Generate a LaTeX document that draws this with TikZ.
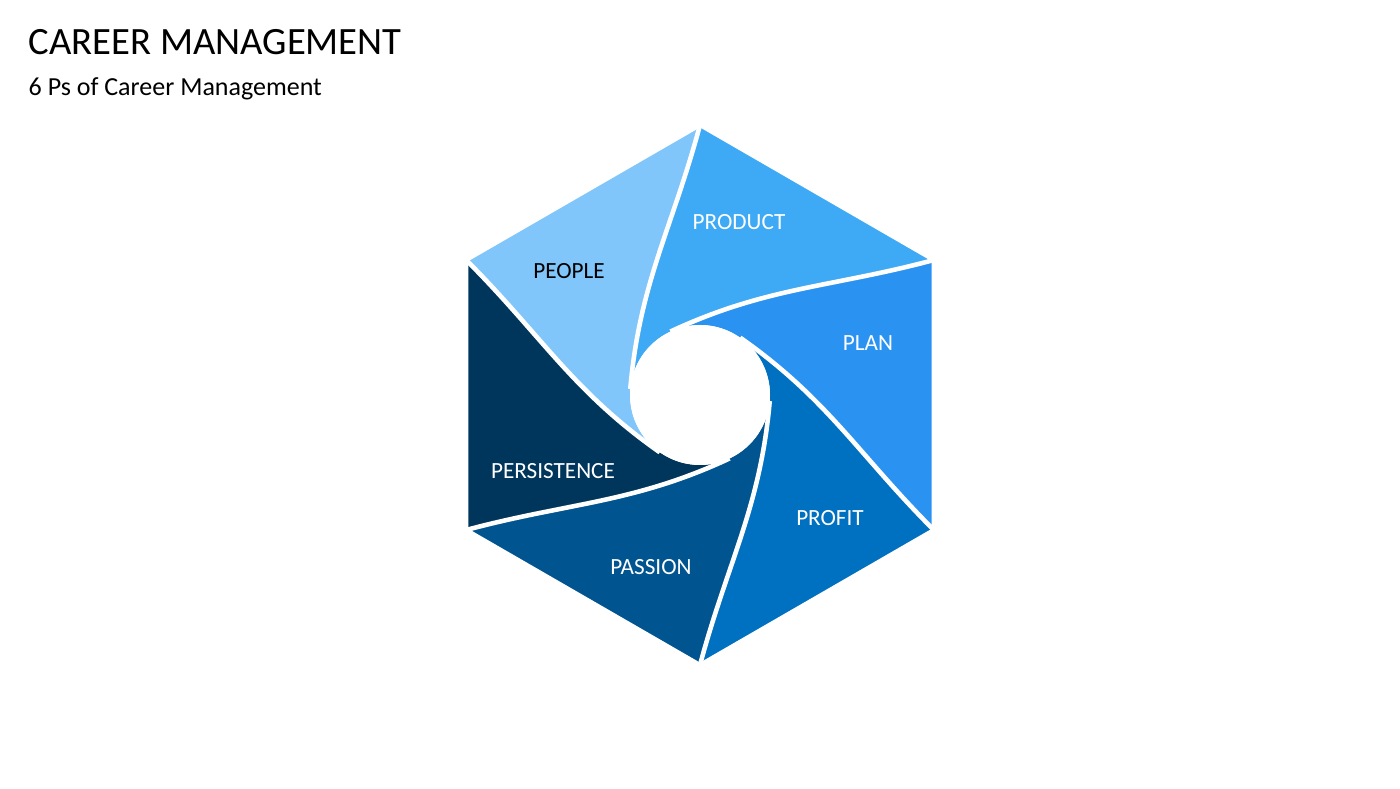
\documentclass[tikz,border=0pt]{standalone}
\usepackage{fontspec}
\setmainfont{Carlito}
\usepackage{tikz}

\definecolor{cPeople}{RGB}{128,198,250}
\definecolor{cProduct}{RGB}{62,169,245}
\definecolor{cPlan}{RGB}{42,147,242}
\definecolor{cProfit}{RGB}{0,112,192}
\definecolor{cPassion}{RGB}{0,84,143}
\definecolor{cPersist}{RGB}{0,54,92}

\begin{document}
\begin{tikzpicture}
      \useasboundingbox (0,0) rectangle (14,7.88);
      \node[anchor=base west,font=\fontsize{11}{13}\selectfont,inner sep=0] (title) at (0.28,7.33) {CAREER MANAGEMENT};
      \node[anchor=base west,font=\fontsize{7.4}{9}\selectfont,inner sep=0] (subtitle) at (0.28,6.92) {6 Ps of Career Management};

      \begin{scope}[shift={(7.0,3.93)}]
        \def\R{2.70}
        \def\r{0.70}
        % blades, one per hexagon side
        \foreach \a/\col in {150/cPeople,90/cProduct,30/cPlan,-30/cProfit,-90/cPassion,-150/cPersist}{
          \fill[\col] (\a:\R) -- (\a-60:\R)
            to[out=\a+105,in=\a-65] (\a+25:\r)
            arc[start angle=\a+25,end angle=\a+85,radius=\r]
            to[out=\a-5,in=\a+165] (\a:\R) -- cycle;
        }
        % white separators
        \foreach \a in {150,90,30,-30,-90,-150}{
          \draw[white,line width=1.3pt] (\a:\R) to[out=\a+165,in=\a-5] (\a+85:\r);
        }
        \draw[white,line width=1.2pt,line join=round]
          (90:\R) -- (30:\R) -- (-30:\R) -- (-90:\R) -- (-150:\R) -- (150:\R) -- cycle;
        \fill[white] (0,0) circle (\r);

        \begin{scope}[every node/.style={font=\fontsize{6.6}{8}\selectfont,text=white}]
          \node[text=black] (people) at (-1.31,1.24) {PEOPLE};
          \node (product) at (0.39,1.73) {PRODUCT};
          \node (plan) at (1.68,0.52) {PLAN};
          \node (profit) at (1.30,-1.23) {PROFIT};
          \node (passion) at (-0.49,-1.72) {PASSION};
          \node (persistence) at (-1.47,-0.76) {PERSISTENCE};
        \end{scope}
      \end{scope}
\end{tikzpicture}
\end{document}
